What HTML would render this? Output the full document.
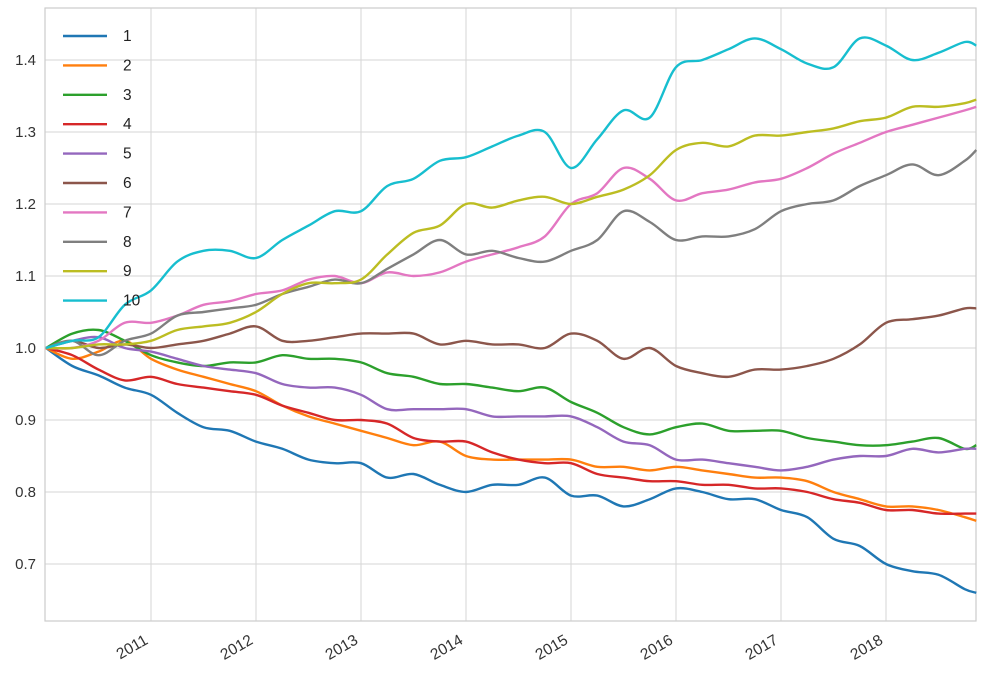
<!DOCTYPE html>
<html><head><meta charset="utf-8"><style>
html,body{margin:0;padding:0;background:#fff;}
svg{display:block;font-family:"Liberation Sans",sans-serif;}
</style></head><body>
<svg id="chart" width="981" height="675"></svg>
<script>
const years=[2011,2012,2013,2014,2015,2016,2017,2018];
const yTicks=[0.7,0.8,0.9,1.0,1.1,1.2,1.3,1.4];
const seriesNames=["1","2","3","4","5","6","7","8","9","10"];
const colors=["#1f77b4","#ff7f0e","#2ca02c","#d62728","#9467bd","#8c564b","#e377c2","#7f7f7f","#bcbd22","#17becf"];
const dates=[];for(let i=0;i<36;i++)dates.push(2010+i*0.25);dates.push(2018.86);
const s1=[1.0,0.975,0.962,0.945,0.935,0.91,0.89,0.885,0.87,0.86,0.845,0.84,0.84,0.82,0.825,0.81,0.80,0.81,0.81,0.82,0.795,0.795,0.78,0.79,0.805,0.80,0.79,0.79,0.775,0.765,0.735,0.725,0.70,0.69,0.685,0.665,0.66];
const s2=[1.0,0.985,0.995,1.01,0.985,0.97,0.96,0.95,0.94,0.92,0.905,0.895,0.885,0.875,0.865,0.87,0.85,0.845,0.845,0.845,0.845,0.835,0.835,0.83,0.835,0.83,0.825,0.82,0.82,0.815,0.80,0.79,0.78,0.78,0.775,0.765,0.76];
const s3=[1.0,1.02,1.025,1.01,0.99,0.98,0.975,0.98,0.98,0.99,0.985,0.985,0.98,0.965,0.96,0.95,0.95,0.945,0.94,0.945,0.925,0.91,0.89,0.88,0.89,0.895,0.885,0.885,0.885,0.875,0.87,0.865,0.865,0.87,0.875,0.86,0.865];
const s4=[1.0,0.99,0.97,0.955,0.96,0.95,0.945,0.94,0.935,0.92,0.91,0.90,0.90,0.895,0.875,0.87,0.87,0.855,0.845,0.84,0.84,0.825,0.82,0.815,0.815,0.81,0.81,0.805,0.805,0.80,0.79,0.785,0.775,0.775,0.77,0.77,0.77];
const s5=[1.0,1.01,1.015,1.0,0.995,0.985,0.975,0.97,0.965,0.95,0.945,0.945,0.935,0.915,0.915,0.915,0.915,0.905,0.905,0.905,0.905,0.89,0.87,0.865,0.845,0.845,0.84,0.835,0.83,0.835,0.845,0.85,0.85,0.86,0.855,0.86,0.86];
const s6=[1.0,1.01,1.0,1.005,1.0,1.005,1.01,1.02,1.03,1.01,1.01,1.015,1.02,1.02,1.02,1.005,1.01,1.005,1.005,1.0,1.02,1.01,0.985,1.0,0.975,0.965,0.96,0.97,0.97,0.975,0.985,1.005,1.035,1.04,1.045,1.055,1.055];
const s7=[1.0,1.0,1.01,1.035,1.035,1.045,1.06,1.065,1.075,1.08,1.095,1.1,1.09,1.105,1.10,1.105,1.12,1.13,1.14,1.155,1.20,1.215,1.25,1.235,1.205,1.215,1.22,1.23,1.235,1.25,1.27,1.285,1.30,1.31,1.32,1.33,1.335];
const s8=[1.0,1.01,0.99,1.01,1.02,1.045,1.05,1.055,1.06,1.075,1.085,1.095,1.09,1.11,1.13,1.15,1.13,1.135,1.125,1.12,1.135,1.15,1.19,1.175,1.15,1.155,1.155,1.165,1.19,1.20,1.205,1.225,1.24,1.255,1.24,1.26,1.275];
const s9=[1.0,1.0,1.005,1.005,1.01,1.025,1.03,1.035,1.05,1.075,1.09,1.09,1.095,1.13,1.16,1.17,1.2,1.195,1.205,1.21,1.2,1.21,1.22,1.24,1.275,1.285,1.28,1.295,1.295,1.3,1.305,1.315,1.32,1.335,1.335,1.34,1.345];
const s10=[1.0,1.01,1.015,1.06,1.08,1.12,1.135,1.135,1.125,1.15,1.17,1.19,1.19,1.225,1.235,1.26,1.265,1.28,1.295,1.30,1.25,1.29,1.33,1.32,1.39,1.40,1.415,1.43,1.415,1.395,1.39,1.43,1.42,1.40,1.41,1.425,1.42];
const allSeries=[s1,s2,s3,s4,s5,s6,s7,s8,s9,s10];

const NS="http://www.w3.org/2000/svg";
const svg=document.getElementById('chart');
const L=45,R=976,T=8,B=621;
const xS=t=>46+(t-2010)*105;
const yS=v=>348-(v-1.0)*720;
function mk(tag,attrs,parent){const e=document.createElementNS(NS,tag);for(const k in attrs)e.setAttribute(k,attrs[k]);(parent||svg).appendChild(e);return e;}

const grid=mk('g',{});


years.forEach(y=>{const l=mk('line',{x1:xS(y),x2:xS(y),y1:T,y2:B,stroke:'#d6d6d6','stroke-width':1},grid);

});
yTicks.forEach(v=>{const l=mk('line',{x1:L,x2:R,y1:yS(v),y2:yS(v),stroke:'#d6d6d6','stroke-width':1},grid);

});
const frame=mk('rect',{x:L,y:T,width:R-L,height:B-T,fill:'none',stroke:'#cccccc','stroke-width':1.2});



yTicks.forEach(v=>{const t=mk('text',{x:36,y:yS(v)+5,'text-anchor':'end','font-size':15,fill:'#333'});t.textContent=v.toFixed(1);

});
years.forEach(y=>{const x=xS(y)-2,yy=643;const t=mk('text',{x:x,y:yy,'text-anchor':'end','font-size':15.5,fill:'#333',transform:`rotate(-30 ${x} ${yy})`});t.textContent=y;

});

function smooth(pts){
 let d='M'+pts[0][0].toFixed(1)+' '+pts[0][1].toFixed(1);
 for(let i=0;i<pts.length-1;i++){
  const p0=pts[i-1]||pts[i],p1=pts[i],p2=pts[i+1],p3=pts[i+2]||p2;
  const c1=[p1[0]+(p2[0]-p0[0])/6,p1[1]+(p2[1]-p0[1])/6];
  const c2=[p2[0]-(p3[0]-p1[0])/6,p2[1]-(p3[1]-p1[1])/6];
  d+=` C${c1[0].toFixed(1)} ${c1[1].toFixed(1)} ${c2[0].toFixed(1)} ${c2[1].toFixed(1)} ${p2[0].toFixed(1)} ${p2[1].toFixed(1)}`;
 }
 return d;
}
const lines=mk('g',{});


allSeries.forEach((s,i)=>{
 const pts=s.map((v,j)=>[xS(dates[j]),yS(v)]);
 const p=mk('path',{d:smooth(pts),fill:'none',stroke:colors[i],'stroke-width':2.4,'stroke-linejoin':'round'},lines);
 
 
});

const leg=mk('g',{});


seriesNames.forEach((n,i)=>{
 const y=36+i*29.4;
 const g=mk('g',{},leg);
 
 
 mk('line',{x1:63,x2:107,y1:y,y2:y,stroke:colors[i],'stroke-width':2.4},g);
 const t=mk('text',{x:123,y:y+5,'font-size':15.5,fill:'#222'},g);t.textContent=n;
});
</script>
</body></html>
